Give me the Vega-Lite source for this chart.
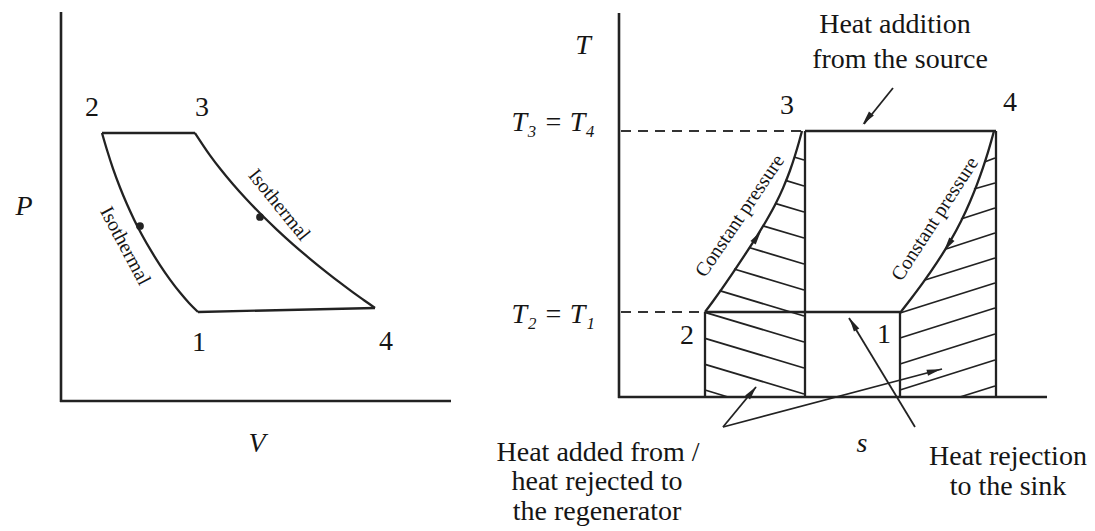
{
  "$schema": "https://vega.github.io/schema/vega-lite/v6.json",
  "width": 1095,
  "height": 531,
  "padding": 0,
  "autosize": {"type": "fit", "contains": "padding"},
  "background": "white",
  "config": {"view": {"stroke": null}, "text": {"font": "Liberation Serif", "color": "#151515"}},
  "datasets": {
    "frame": [
      {"x": 61, "y": 12, "x2": 61, "y2": 402},
      {"x": 60, "y": 401, "x2": 451, "y2": 401},
      {"x": 619, "y": 13, "x2": 619, "y2": 398},
      {"x": 618, "y": 397, "x2": 1047, "y2": 397}
    ],
    "cycle": [
      {"x": 102, "y": 133, "x2": 195, "y2": 133},
      {"x": 198, "y": 312, "x2": 375, "y2": 308},
      {"x": 805, "y": 131, "x2": 996, "y2": 131},
      {"x": 805, "y": 131, "x2": 805, "y2": 397},
      {"x": 705, "y": 312, "x2": 705, "y2": 397},
      {"x": 705, "y": 312, "x2": 900, "y2": 312},
      {"x": 900, "y": 312, "x2": 900, "y2": 397},
      {"x": 996, "y": 131, "x2": 996, "y2": 397}
    ],
    "dashed": [
      {"x": 621, "y": 131, "x2": 801, "y2": 131},
      {"x": 621, "y": 312, "x2": 705, "y2": 312}
    ],
    "curves": [
      {"c": "pv21", "i": 0, "x": 102, "y": 133}, {"c": "pv21", "i": 1, "x": 107, "y": 150},
      {"c": "pv21", "i": 2, "x": 113, "y": 168.6}, {"c": "pv21", "i": 3, "x": 120, "y": 187.5},
      {"c": "pv21", "i": 4, "x": 127, "y": 204.3}, {"c": "pv21", "i": 5, "x": 134, "y": 219.4},
      {"c": "pv21", "i": 6, "x": 142, "y": 235}, {"c": "pv21", "i": 7, "x": 151, "y": 250.7},
      {"c": "pv21", "i": 8, "x": 160, "y": 265.1}, {"c": "pv21", "i": 9, "x": 170, "y": 279.6},
      {"c": "pv21", "i": 10, "x": 180, "y": 292.6}, {"c": "pv21", "i": 11, "x": 189, "y": 303},
      {"c": "pv21", "i": 12, "x": 198, "y": 312},
      {"c": "pv34", "i": 0, "x": 195, "y": 133}, {"c": "pv34", "i": 1, "x": 210, "y": 155.3},
      {"c": "pv34", "i": 2, "x": 221, "y": 169.8}, {"c": "pv34", "i": 3, "x": 233, "y": 184.3},
      {"c": "pv34", "i": 4, "x": 246, "y": 198.8}, {"c": "pv34", "i": 5, "x": 260, "y": 213.3},
      {"c": "pv34", "i": 6, "x": 276, "y": 228.8}, {"c": "pv34", "i": 7, "x": 293, "y": 244.3},
      {"c": "pv34", "i": 8, "x": 310, "y": 258.8}, {"c": "pv34", "i": 9, "x": 327, "y": 272.6},
      {"c": "pv34", "i": 10, "x": 340, "y": 282.7}, {"c": "pv34", "i": 11, "x": 353, "y": 292.4},
      {"c": "pv34", "i": 12, "x": 364, "y": 300.2}, {"c": "pv34", "i": 13, "x": 375, "y": 308},
      {"c": "ts23", "i": 0, "x": 705, "y": 312}, {"c": "ts23", "i": 1, "x": 713, "y": 301.2},
      {"c": "ts23", "i": 2, "x": 722, "y": 288.6}, {"c": "ts23", "i": 3, "x": 733, "y": 272.6},
      {"c": "ts23", "i": 4, "x": 745, "y": 254.6}, {"c": "ts23", "i": 5, "x": 756, "y": 237.6},
      {"c": "ts23", "i": 6, "x": 767, "y": 219.5}, {"c": "ts23", "i": 7, "x": 776, "y": 203},
      {"c": "ts23", "i": 8, "x": 783, "y": 188.1}, {"c": "ts23", "i": 9, "x": 790, "y": 170.5},
      {"c": "ts23", "i": 10, "x": 795, "y": 155.5}, {"c": "ts23", "i": 11, "x": 799, "y": 142},
      {"c": "ts23", "i": 12, "x": 802, "y": 131},
      {"c": "ts14", "i": 0, "x": 900, "y": 313}, {"c": "ts14", "i": 1, "x": 911, "y": 298.8},
      {"c": "ts14", "i": 2, "x": 923, "y": 282.7}, {"c": "ts14", "i": 3, "x": 937, "y": 262.4},
      {"c": "ts14", "i": 4, "x": 950, "y": 241.6}, {"c": "ts14", "i": 5, "x": 961, "y": 221.2},
      {"c": "ts14", "i": 6, "x": 970, "y": 201.7}, {"c": "ts14", "i": 7, "x": 977, "y": 184.3},
      {"c": "ts14", "i": 8, "x": 983, "y": 167.6}, {"c": "ts14", "i": 9, "x": 988, "y": 152.1},
      {"c": "ts14", "i": 10, "x": 991, "y": 141.9}, {"c": "ts14", "i": 11, "x": 994, "y": 131}
    ],
    "hatch": [
      {"x": 794, "y": 157, "x2": 804, "y2": 160},
      {"x": 785.4, "y": 180.4, "x2": 804, "y2": 186},
      {"x": 775, "y": 203.3, "x2": 804, "y2": 212},
      {"x": 763, "y": 225.8, "x2": 804, "y2": 238},
      {"x": 749, "y": 247.5, "x2": 804, "y2": 264},
      {"x": 734, "y": 269, "x2": 804, "y2": 290},
      {"x": 719.5, "y": 290.7, "x2": 804, "y2": 316},
      {"x": 705, "y": 312.3, "x2": 804, "y2": 342},
      {"x": 705, "y": 338.3, "x2": 804, "y2": 368},
      {"x": 705, "y": 364.3, "x2": 804, "y2": 394},
      {"x": 705, "y": 390, "x2": 728, "y2": 397},
      {"x": 984.5, "y": 162, "x2": 995, "y2": 158},
      {"x": 974, "y": 189, "x2": 995, "y2": 183},
      {"x": 961, "y": 219, "x2": 995, "y2": 208},
      {"x": 946, "y": 249, "x2": 995, "y2": 233},
      {"x": 925, "y": 280, "x2": 995, "y2": 258},
      {"x": 900, "y": 313, "x2": 995, "y2": 283},
      {"x": 900, "y": 338, "x2": 995, "y2": 308},
      {"x": 900, "y": 364, "x2": 995, "y2": 334},
      {"x": 900, "y": 390, "x2": 995, "y2": 360},
      {"x": 960, "y": 397, "x2": 995, "y2": 386}
    ],
    "shafts": [
      {"x": 893, "y": 88, "x2": 864, "y2": 124},
      {"x": 915, "y": 427, "x2": 849, "y2": 318},
      {"x": 723, "y": 427, "x2": 756, "y2": 387},
      {"x": 723, "y": 427, "x2": 942, "y2": 369}
    ],
    "heads": [
      {"x": 867, "y": 119, "dir": -141},
      {"x": 853, "y": 324, "dir": -31},
      {"x": 752, "y": 392, "dir": 39},
      {"x": 934, "y": 371, "dir": 75},
      {"x": 757, "y": 237, "dir": 34},
      {"x": 948, "y": 245, "dir": -146}
    ],
    "dots": [
      {"x": 140, "y": 226},
      {"x": 260, "y": 217}
    ],
    "notes": [
      {"x": 92, "y": 108, "text": "2"},
      {"x": 202, "y": 108, "text": "3"},
      {"x": 199, "y": 343, "text": "1"},
      {"x": 386, "y": 342, "text": "4"},
      {"x": 787, "y": 106, "text": "3"},
      {"x": 1010, "y": 103, "text": "4"},
      {"x": 687, "y": 336, "text": "2"},
      {"x": 884, "y": 335, "text": "1"},
      {"x": 895, "y": 25, "text": "Heat addition"},
      {"x": 900, "y": 60, "text": "from the source"},
      {"x": 598, "y": 453, "text": "Heat added from /"},
      {"x": 597, "y": 482, "text": "heat rejected to"},
      {"x": 597, "y": 512, "text": "the regenerator"},
      {"x": 1008, "y": 457, "text": "Heat rejection"},
      {"x": 1008, "y": 487, "text": "to the sink"}
    ],
    "symbols": [
      {"x": 24, "y": 207, "text": "P"},
      {"x": 257, "y": 444, "text": "V"},
      {"x": 583, "y": 46, "text": "T"},
      {"x": 862, "y": 444, "text": "s"}
    ],
    "levels": [
      {"x": 595, "y": 131, "text": "T₃ = T₄"},
      {"x": 595, "y": 323, "text": "T₂ = T₁"}
    ],
    "isoLeft": [{"x": 125, "y": 246, "text": "Isothermal"}],
    "isoRight": [{"x": 279, "y": 205, "text": "Isothermal"}],
    "cpLeft": [{"x": 740, "y": 216, "text": "Constant pressure"}],
    "cpRight": [{"x": 935, "y": 219, "text": "Constant pressure"}]
  },
  "encoding": {
    "x": {"field": "x", "type": "quantitative", "scale": {"domain": [0, 1095]}, "axis": null},
    "y": {"field": "y", "type": "quantitative", "scale": {"domain": [0, 531], "reverse": true}, "axis": null}
  },
  "layer": [
    {"data": {"name": "frame"}, "mark": {"type": "rule", "strokeWidth": 2.6, "color": "#222"},
     "encoding": {"x2": {"field": "x2"}, "y2": {"field": "y2"}}},
    {"data": {"name": "cycle"}, "mark": {"type": "rule", "strokeWidth": 2.3, "color": "#222"},
     "encoding": {"x2": {"field": "x2"}, "y2": {"field": "y2"}}},
    {"data": {"name": "dashed"}, "mark": {"type": "rule", "strokeWidth": 2, "color": "#333", "strokeDash": [10, 7]},
     "encoding": {"x2": {"field": "x2"}, "y2": {"field": "y2"}}},
    {"data": {"name": "hatch"}, "mark": {"type": "rule", "strokeWidth": 1.8, "color": "#222"},
     "encoding": {"x2": {"field": "x2"}, "y2": {"field": "y2"}}},
    {"data": {"name": "shafts"}, "mark": {"type": "rule", "strokeWidth": 1.8, "color": "#222"},
     "encoding": {"x2": {"field": "x2"}, "y2": {"field": "y2"}}},
    {"data": {"name": "curves"}, "mark": {"type": "line", "strokeWidth": 2.3, "color": "#222", "interpolate": "monotone"},
     "encoding": {"detail": {"field": "c"}, "order": {"field": "i", "type": "quantitative"}}},
    {"data": {"name": "heads"}, "mark": {"type": "point", "shape": "M0,-1L0.45,1L-0.45,1Z", "filled": true, "size": 196, "color": "#222", "opacity": 1},
     "encoding": {"angle": {"field": "dir", "type": "quantitative", "scale": null}}},
    {"data": {"name": "dots"}, "mark": {"type": "point", "shape": "circle", "filled": true, "size": 60, "color": "#222", "opacity": 1}},
    {"data": {"name": "notes"}, "mark": {"type": "text", "fontSize": 28, "baseline": "middle", "align": "center"},
     "encoding": {"text": {"field": "text"}}},
    {"data": {"name": "symbols"}, "mark": {"type": "text", "fontSize": 28, "fontStyle": "italic", "baseline": "middle", "align": "center"},
     "encoding": {"text": {"field": "text"}}},
    {"data": {"name": "levels"}, "mark": {"type": "text", "fontSize": 28, "fontStyle": "italic", "baseline": "alphabetic", "align": "right"},
     "encoding": {"text": {"field": "text"}}},
    {"data": {"name": "isoLeft"}, "mark": {"type": "text", "fontSize": 20, "angle": 62, "baseline": "middle", "align": "center"},
     "encoding": {"text": {"field": "text"}}},
    {"data": {"name": "isoRight"}, "mark": {"type": "text", "fontSize": 20, "angle": 51, "baseline": "middle", "align": "center"},
     "encoding": {"text": {"field": "text"}}},
    {"data": {"name": "cpLeft"}, "mark": {"type": "text", "fontSize": 20, "angle": -56, "baseline": "middle", "align": "center"},
     "encoding": {"text": {"field": "text"}}},
    {"data": {"name": "cpRight"}, "mark": {"type": "text", "fontSize": 20, "angle": -57, "baseline": "middle", "align": "center"},
     "encoding": {"text": {"field": "text"}}}
  ]
}
